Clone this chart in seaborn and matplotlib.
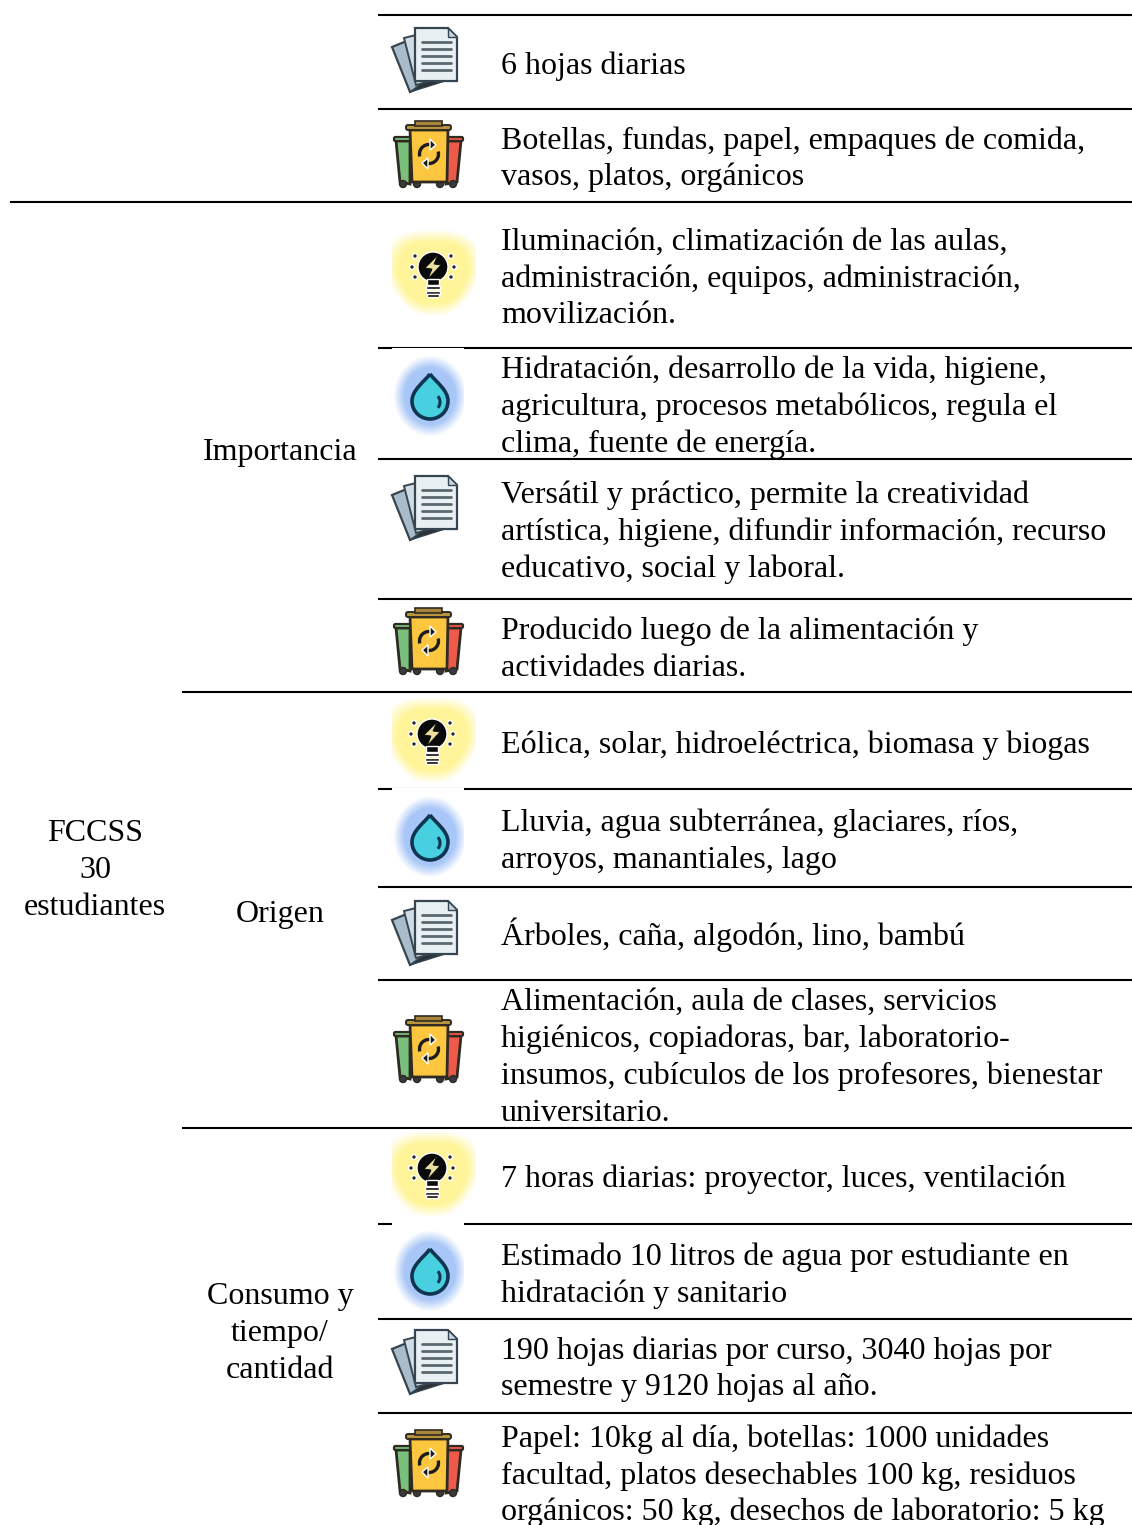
import numpy as np
import matplotlib
matplotlib.use("Agg")
import matplotlib.pyplot as plt
from matplotlib.patches import Arc, Circle, FancyBboxPatch, PathPatch, Polygon, Rectangle
from matplotlib.path import Path
import seaborn as sns

# table content
groups = ["FCCSS", "30", "estudiantes"]
sections = ["Importancia", "Origen", "Consumo y", "tiempo/", "cantidad"]
resources = ["paper", "bin", "bulb", "drop", "paper", "bin", "bulb", "drop",
             "paper", "bin", "bulb", "drop", "paper", "bin"]
row_text = [
    ["6 hojas diarias"],
    ["Botellas, fundas, papel, empaques de comida,", "vasos, platos, orgánicos"],
    ["Iluminación, climatización de las aulas,", "administración, equipos, administración,", "movilización."],
    ["Hidratación, desarrollo de la vida, higiene,", "agricultura, procesos metabólicos, regula el", "clima, fuente de energía."],
    ["Versátil y práctico, permite la creatividad", "artística, higiene, difundir información, recurso", "educativo, social y laboral."],
    ["Producido luego de la alimentación y", "actividades diarias."],
    ["Eólica, solar, hidroeléctrica, biomasa y biogas"],
    ["Lluvia, agua subterránea, glaciares, ríos,", "arroyos, manantiales, lago"],
    ["Árboles, caña, algodón, lino, bambú"],
    ["Alimentación, aula de clases, servicios", "higiénicos, copiadoras, bar, laboratorio-", "insumos, cubículos de los profesores, bienestar", "universitario."],
    ["7 horas diarias: proyector, luces, ventilación"],
    ["Estimado 10 litros de agua por estudiante en", "hidratación y sanitario"],
    ["190 hojas diarias por curso, 3040 hojas por", "semestre y 9120 hojas al año."],
    ["Papel: 10kg al día, botellas: 1000 unidades", "facultad, platos desechables 100 kg, residuos", "orgánicos: 50 kg, desechos de laboratorio: 5 kg"],
]

# layout in pixels
row_baselines = [[74], [149, 185], [250, 287, 323], [378, 415, 452], [503, 540, 577],
                 [639, 676], [753], [831, 868], [945], [1010, 1047, 1084, 1121],
                 [1187], [1265, 1302], [1359, 1395], [1447, 1484, 1520]]
icon_centers = [(428, 60), (428, 155), (433, 267), (430, 396), (428, 508), (428, 642),
                (432, 734), (430, 837), (428, 933), (428, 1050), (432, 1168), (430, 1271),
                (428, 1362), (428, 1464)]
drop_box_tops = {396: 348, 837: 788.5, 1271: 1222}
rule_y = [15, 109, 202, 348, 459, 599, 692, 788.5, 887, 980, 1128, 1223.5, 1319, 1413]
rule_x = [378, 378, 10, 378, 378, 378, 182, 378, 378, 378, 182, 378, 378, 378]
group_y = [841, 878, 915]
section_y = [460, 922, 1304, 1341, 1378]

sns.set_theme(style="white")
plt.rcParams["font.family"] = ["Liberation Serif", "DejaVu Serif"]
FS = 23


def glow(ax, img, box):
    ax.imshow(img, extent=(box[0], box[1], box[3], box[2]), aspect="auto",
              interpolation="bilinear", zorder=2)


def draw_paper(ax, cx, cy):
    dark = "#36454f"
    back = [(cx - 36, cy - 13), (cx - 14, cy - 22), (cx + 12, cy + 18), (cx - 18, cy + 32)]
    mid = [(cx - 24, cy - 22), (cx - 12, cy - 25), (cx + 6, cy + 20), (cx - 12, cy + 25)]
    shade = [(cx - 18, cy + 32), (cx + 17, cy + 21), (cx - 2, cy + 20)]
    ax.add_patch(Polygon(back, closed=True, fc="#a8bccb", ec=dark, lw=1.6, zorder=3))
    ax.add_patch(Polygon(shade, closed=True, fc="#2a3238", ec=dark, lw=1, zorder=3))
    ax.add_patch(Polygon(mid, closed=True, fc="#d0dde6", ec=dark, lw=1.4, zorder=3))
    sheet = [(cx - 13, cy - 32), (cx + 20, cy - 32), (cx + 29, cy - 23),
             (cx + 29, cy + 21), (cx - 13, cy + 21)]
    ax.add_patch(Polygon(sheet, closed=True, fc="#e8f0f3", ec=dark, lw=1.6, zorder=4))
    ax.add_patch(Polygon([(cx + 20, cy - 32), (cx + 20, cy - 23), (cx + 29, cy - 23)],
                         closed=True, fc="#c6d6e2", ec=dark, lw=1, zorder=5))
    for dy in [-18, -11, -4, 3, 10]:
        ax.plot([cx - 6, cx + 23], [cy + dy, cy + dy], color="#5a6870", lw=2, zorder=5)


def draw_bin(ax, cx, cy):
    dark = "#2f2a22"
    green = [(cx - 32, cy - 14), (cx - 18, cy - 14), (cx - 18, cy + 29), (cx - 28, cy + 27)]
    red = [(cx + 18, cy - 14), (cx + 33, cy - 14), (cx + 29, cy + 27), (cx + 18, cy + 29)]
    ax.add_patch(Polygon(green, closed=True, fc="#7ac07c", ec=dark, lw=2, zorder=3))
    ax.add_patch(Polygon(red, closed=True, fc="#ee5a4a", ec=dark, lw=2, zorder=3))
    ax.add_patch(FancyBboxPatch((cx - 34, cy - 18), 17, 4, boxstyle="round,pad=0,rounding_size=1.5",
                                fc="#7ac07c", ec=dark, lw=1.6, zorder=3))
    ax.add_patch(FancyBboxPatch((cx + 18, cy - 18), 17, 4, boxstyle="round,pad=0,rounding_size=1.5",
                                fc="#ee5a4a", ec=dark, lw=1.6, zorder=3))
    for dx in [-25, -11, 12, 25]:
        ax.add_patch(Circle((cx + dx, cy + 29), 3.5, fc="#3a3a3a", ec=dark, zorder=4))
    ax.add_patch(Polygon([(cx - 18, cy - 25), (cx + 20, cy - 25), (cx + 19, cy + 27), (cx - 16, cy + 27)],
                         closed=True, fc="#fdc63f", ec=dark, lw=2, zorder=5))
    ax.add_patch(FancyBboxPatch((cx - 22, cy - 30), 45, 5, boxstyle="round,pad=0,rounding_size=2",
                                fc="#b8943a", ec=dark, lw=1.4, zorder=6))
    ax.add_patch(Rectangle((cx - 13, cy - 34), 27, 5, fc="#a8863a", ec=dark, lw=1.2, zorder=6))
    # recycle arrows
    rx, ry = cx + 1, cy - 1
    ax.add_patch(Arc((rx, ry), 19, 19, theta1=165, theta2=275, color="#1c1c1c", lw=2.4, zorder=7))
    ax.add_patch(Arc((rx, ry), 19, 19, theta1=-15, theta2=95, color="#1c1c1c", lw=2.4, zorder=7))
    ax.add_patch(Polygon([(rx + 7, ry - 9), (rx + 1, ry - 15), (rx + 1, ry - 4)], closed=True,
                         fc="#1c1c1c", zorder=7))
    ax.add_patch(Polygon([(rx - 7, ry + 9), (rx - 1, ry + 15), (rx - 1, ry + 4)], closed=True,
                         fc="#1c1c1c", zorder=7))


def draw_bulb(ax, cx, cy):
    box = (392, 476, cy - 38, cy + 49)
    xx, yy = np.meshgrid(np.linspace(box[0], box[1], 90), np.linspace(box[2], box[3], 90))
    gy = cy + 6
    dy = (yy - gy) / 44
    width = 50 * (1 - 0.42 * np.clip(dy, 0, 1))
    r = (np.abs((xx - cx) / width) ** 3 + np.abs(dy) ** 3) ** (1 / 3)
    a = np.clip((1 - r) / 0.3, 0, 1)[..., None]
    img = np.array((1.0, 0.96, 0.60))[None, None, :] * a + (1 - a)
    glow(ax, img, box)
    ax.add_patch(Circle((cx, cy), 15, fc="#0a0a0a", zorder=3))
    ax.add_patch(Polygon([(cx - 6, cy + 12), (cx + 6, cy + 12), (cx + 6, cy + 18), (cx - 6, cy + 18)],
                         closed=True, fc="#0a0a0a", zorder=3))
    ax.add_patch(Polygon([(cx + 5, cy - 12), (cx - 8, cy + 1), (cx - 1, cy + 2), (cx - 5, cy + 12),
                          (cx + 8, cy - 2), (cx + 1, cy - 3)], closed=True, fc="#e8e0a0", ec="#0a0a0a",
                         lw=0.6, zorder=4))
    for dy_, half in [(19, 7), (24, 7), (27, 6)]:
        ax.add_patch(Rectangle((cx - half, cy + dy_), 2 * half, 2.5, fc="#0a0a0a", zorder=3))
    for dx_, dy_ in [(-21, 0), (21, 0), (-18, -11), (18, -11), (-18, 10), (18, 10)]:
        ax.add_patch(Circle((cx + dx_, cy + dy_), 2.4, fc="#2a2a2a", zorder=3))


def draw_drop(ax, cx, cy):
    box = (392, 464, drop_box_tops[cy], cy + 44)
    xx, yy = np.meshgrid(np.linspace(box[0], box[1], 90), np.linspace(box[2], box[3], 90))
    r = np.sqrt(((xx - cx) / 37) ** 2 + ((yy - cy) / 41) ** 2)
    a = np.clip((1 - r) / 0.30, 0, 1)[..., None]
    img = np.array((0.66, 0.78, 0.97))[None, None, :] * a + (1 - a)
    glow(ax, img, box)
    verts = [(cx, cy - 22), (cx + 6, cy - 14), (cx + 18, cy - 6), (cx + 18, cy + 5),
             (cx + 18, cy + 16), (cx + 9, cy + 23), (cx, cy + 23),
             (cx - 9, cy + 23), (cx - 18, cy + 16), (cx - 18, cy + 5),
             (cx - 18, cy - 6), (cx - 6, cy - 14), (cx, cy - 22)]
    codes = [Path.MOVETO] + [Path.CURVE4] * 12
    ax.add_patch(PathPatch(Path(verts, codes), fc="#48d0e0", ec="#0f3550", lw=2.6, zorder=3))
    ax.add_patch(Arc((cx + 3, cy + 6), 14, 16, theta1=-50, theta2=50, color="#0f3550", lw=2.2, zorder=4))


icon_draw = {"paper": draw_paper, "bin": draw_bin, "bulb": draw_bulb, "drop": draw_drop}

fig = plt.figure(figsize=(11.32, 15.25), dpi=100)
ax = fig.add_axes([0, 0, 1, 1])
ax.axis("off")

ax.hlines(rule_y, rule_x, 1132, color="black", lw=1.5, zorder=1)

for kind, (cx, cy) in zip(resources, icon_centers):
    icon_draw[kind](ax, cx, cy)
ax.set_xlim(0, 1132)
ax.set_ylim(1525, 0)

for lines, bases in zip(row_text, row_baselines):
    for line, y in zip(lines, bases):
        ax.text(501, y, line, fontsize=FS, color="black", ha="left", va="baseline", zorder=8)
for label, y in zip(groups, group_y):
    ax.text(95, y, label, fontsize=FS, color="black", ha="center", va="baseline")
for label, y in zip(sections, section_y):
    ax.text(280, y, label, fontsize=FS, color="black", ha="center", va="baseline")

fig.savefig("out.png", dpi=100)
plt.close(fig)
